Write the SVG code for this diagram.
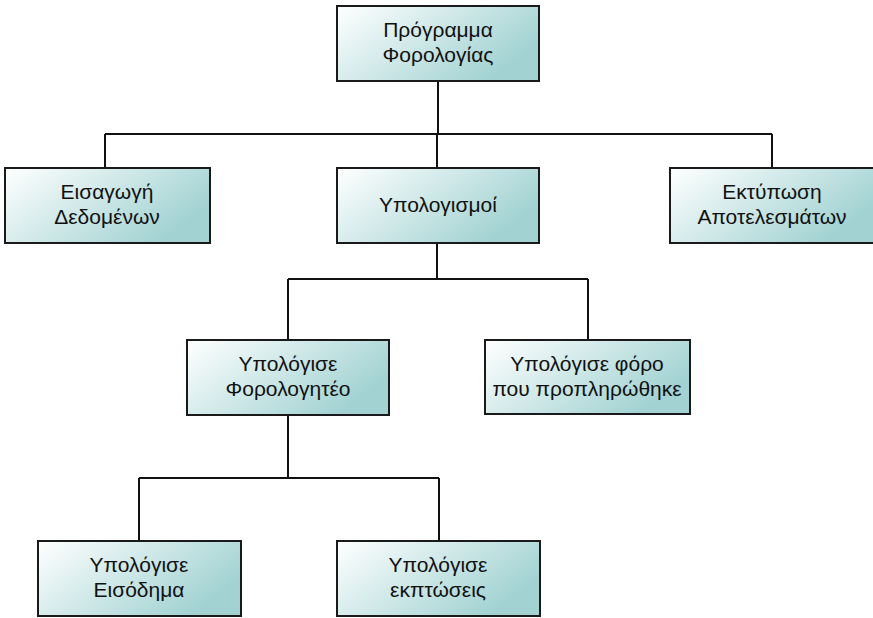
<svg xmlns="http://www.w3.org/2000/svg" width="873" height="618" viewBox="0 0 873 618">
<defs>
<linearGradient id="g" x1="0" y1="0" x2="1" y2="0.5">
<stop offset="0" stop-color="#ffffff"/>
<stop offset="1" stop-color="#a2d2d2"/>
</linearGradient>
</defs>
<style>
.box{fill:url(#g);stroke:#1a1a1a;stroke-width:2}
.t{font-family:"Liberation Sans",Arial,sans-serif;font-size:21px;fill:#111;text-anchor:middle}
.c{fill:none;stroke:#111;stroke-width:2}
</style>
<rect width="873" height="618" fill="#fff"/>
<g id="connectors">
<path class="c" d="M438 81V134M105 134H772M105 134V168M437 134V168M772 134V168"/>
<path class="c" d="M437 243V279M288 279H588M288 279V340M588 279V340"/>
<path class="c" d="M288 415V478M139 478H439M139 478V541M439 478V541"/>
</g>
<g id="n1"><rect class="box" x="337" y="6" width="202" height="75"/><text class="t" x="438" y="37">Πρόγραμμα</text><text class="t" x="438" y="62">Φορολογίας</text></g>
<g id="n2"><rect class="box" x="5" y="168" width="205" height="75"/><text class="t" x="107" y="199">Εισαγωγή</text><text class="t" x="107" y="224">Δεδομένων</text></g>
<g id="n3"><rect class="box" x="337" y="168" width="202" height="75"/><text class="t" x="438" y="212">Υπολογισμοί</text></g>
<g id="n4"><rect class="box" x="670" y="168" width="205" height="75"/><text class="t" x="772" y="199">Εκτύπωση</text><text class="t" x="772" y="224">Αποτελεσμάτων</text></g>
<g id="n5"><rect class="box" x="187" y="340" width="202" height="75"/><text class="t" x="288" y="371">Υπολόγισε</text><text class="t" x="288" y="396">Φορολογητέο</text></g>
<g id="n6"><rect class="box" x="485" y="340" width="205" height="74"/><text class="t" x="587" y="371">Υπολόγισε φόρο</text><text class="t" x="587" y="396">που προπληρώθηκε</text></g>
<g id="n7"><rect class="box" x="38" y="541" width="203" height="75"/><text class="t" x="139" y="572">Υπολόγισε</text><text class="t" x="139" y="597">Εισόδημα</text></g>
<g id="n8"><rect class="box" x="337" y="541" width="203" height="75"/><text class="t" x="438" y="572">Υπολόγισε</text><text class="t" x="438" y="597">εκπτώσεις</text></g>
</svg>
